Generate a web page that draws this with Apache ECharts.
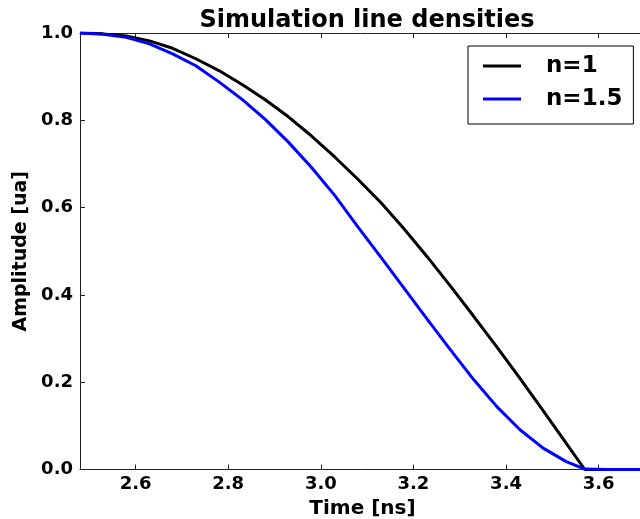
<!DOCTYPE html>
<html>
<head>
<meta charset="utf-8">
<script src="https://cdn.jsdelivr.net/npm/echarts@6/dist/echarts.min.js"></script>
<style>
  html, body { margin: 0; padding: 0; background: #fff; }
  #myChart { width: 640px; height: 519px; }
</style>
</head>
<body>
<div id="myChart"></div>
<script>
// values
var timeValues = [2.48, 2.53, 2.58, 2.63, 2.68, 2.73, 2.78, 2.83, 2.88, 2.93, 2.98, 3.03, 3.08,
                  3.13, 3.18, 3.23, 3.28, 3.33, 3.38, 3.43, 3.48, 3.53, 3.57, 3.62, 3.70];
var n1Values = [1.000, 0.998, 0.993, 0.982, 0.965, 0.941, 0.914, 0.882, 0.847, 0.808, 0.764, 0.716, 0.665,
                0.611, 0.551, 0.487, 0.420, 0.351, 0.281, 0.209, 0.135, 0.060, 0.000, 0.000, 0.000];
var n15Values = [1.000, 0.997, 0.990, 0.975, 0.952, 0.925, 0.888, 0.848, 0.802, 0.750, 0.692, 0.628, 0.556,
                 0.486, 0.415, 0.344, 0.274, 0.206, 0.144, 0.091, 0.049, 0.018, 0.001, 0.000, 0.000];
var xTicks = [2.6, 2.8, 3.0, 3.2, 3.4, 3.6];
var seriesNames = ['n=1', 'n=1.5'];

var font = 'DejaVu Sans';

function pairs(vals) {
  var out = [];
  for (var i = 0; i < timeValues.length; i++) {
    out.push([timeValues[i], vals[i]]);
  }
  return out;
}

var myChart = echarts.init(document.getElementById('myChart'));
var option = {
  animation: false,
  title: {
    text: 'Simulation line densities',
    left: 362,
    textAlign: 'center',
    top: 4,
    textStyle: { fontFamily: font, fontWeight: 'bold', fontSize: 24, color: '#000' }
  },
  legend: {
    data: seriesNames,
    orient: 'vertical',
    left: 468,
    top: 46,
    padding: [6, 11, 11, 15],
    itemGap: 5,
    icon: 'rect',
    itemWidth: 38,
    itemHeight: 3,
    backgroundColor: '#fff',
    borderColor: '#000',
    borderWidth: 1,
    borderRadius: 0,
    textStyle: {
      fontFamily: font, fontWeight: 'bold', fontSize: 23, color: '#000',
      lineHeight: 28, padding: [0, 0, 0, 20]
    }
  },
  grid: { left: 80, top: 33, right: -5, bottom: 49.5, containLabel: false, outerBoundsMode: 'none' },
  xAxis: [{
    type: 'value',
    min: 2.48,
    max: 3.7,
    name: 'Time [ns]',
    nameLocation: 'middle',
    nameGap: 27,
    nameTextStyle: { fontFamily: font, fontWeight: 'bold', fontSize: 20, color: '#000' },
    axisLine: { show: true, lineStyle: { color: '#222', width: 1 } },
    axisTick: { show: true, inside: true, length: 5, customValues: xTicks, lineStyle: { color: '#222' } },
    axisLabel: {
      customValues: xTicks, margin: 6,
      fontFamily: font, fontWeight: 'bold', fontSize: 18, color: '#000',
      formatter: function (v) { return v.toFixed(1); }
    },
    splitLine: { show: false }
  }, {
    type: 'value',
    position: 'top',
    min: 2.48,
    max: 3.7,
    axisLine: { show: true, onZero: false, lineStyle: { color: '#222', width: 1 } },
    axisTick: { show: true, inside: true, length: 5, customValues: xTicks, lineStyle: { color: '#222' } },
    axisLabel: { show: false },
    splitLine: { show: false }
  }],
  yAxis: {
    type: 'value',
    min: 0,
    max: 1,
    interval: 0.2,
    name: 'Amplitude [ua]',
    nameLocation: 'middle',
    nameGap: 47,
    nameTextStyle: { fontFamily: font, fontWeight: 'bold', fontSize: 19, color: '#000' },
    axisLine: { show: true, lineStyle: { color: '#222', width: 1 } },
    axisTick: { show: true, inside: true, length: 5, lineStyle: { color: '#222' } },
    axisLabel: {
      margin: 7,
      fontFamily: font, fontWeight: 'bold', fontSize: 18, color: '#000',
      formatter: function (v) { return v.toFixed(1); }
    },
    splitLine: { show: false }
  },
  series: [{
    name: seriesNames[0],
    type: 'line',
    data: pairs(n1Values),
    showSymbol: false,
    color: '#000000',
    lineStyle: { color: '#000000', width: 3 },
    z: 3
  }, {
    name: seriesNames[1],
    type: 'line',
    data: pairs(n15Values),
    showSymbol: false,
    color: '#0000ff',
    lineStyle: { color: '#0000ff', width: 3 },
    z: 4
  }]
};
myChart.setOption(option, true);
</script>
</body>
</html>
